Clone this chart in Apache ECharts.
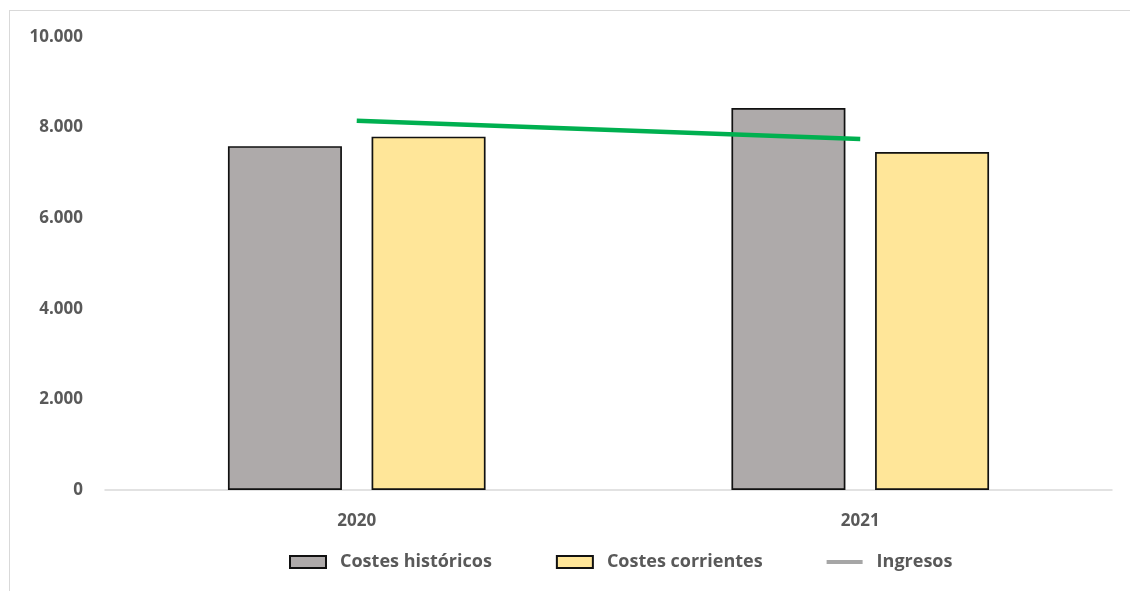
<!DOCTYPE html>
<html><head><meta charset="utf-8">
<script src="https://cdn.jsdelivr.net/npm/echarts@6/dist/echarts.min.js"></script>
<style>html,body{margin:0;padding:0;background:#fff}#c{width:1130px;height:591px}
#b{position:absolute;left:9px;top:10px;width:1200px;height:700px;border:1px solid #d9d9d9;pointer-events:none}</style>
</head><body><div id="c"></div><div id="b"></div>
<script>
const categories = ['2020', '2021'];
const costesHistoricos = [7590, 8430];
const costesCorrientes = [7800, 7460];
const ingresos = [8150, 7750];
const yTicks = [0, 2000, 4000, 6000, 8000, 10000];

const font = '"Open Sans", Lato, sans-serif';
const chart = echarts.init(document.getElementById('c'));
chart.setOption({
  animation: false,
  grid: {left: 105, right: 18, top: 37, bottom: 101},
  legend: {
    bottom: 15, left: 284, itemGap: 64, itemWidth: 36, itemHeight: 12,
    textStyle: {color: '#595959', fontSize: 18, fontWeight: 'bold', fontFamily: font, padding: [0, 0, 0, 9]},
    data: [
      {name: 'Costes históricos', icon: 'rect'},
      {name: 'Costes corrientes', icon: 'rect'},
      {name: 'Ingresos', icon: 'path://M0,0 L36,0 L36,4 L0,4 Z', itemStyle: {color: '#a6a6a6'}}
    ]
  },
  xAxis: {
    type: 'category', data: categories,
    axisLine: {lineStyle: {color: '#d9d9d9', width: 1.5}},
    axisTick: {show: false},
    axisLabel: {color: '#595959', fontSize: 17, fontWeight: 'bold', fontFamily: font, margin: 23}
  },
  yAxis: {
    type: 'value', min: yTicks[0], max: yTicks[yTicks.length - 1], interval: 2000,
    splitLine: {show: false}, axisLine: {show: false}, axisTick: {show: false},
    axisLabel: {color: '#595959', fontSize: 17, fontWeight: 'bold', fontFamily: font, margin: 22,
      formatter: v => v.toLocaleString('de-DE')}
  },
  series: [
    {name: 'Costes históricos', type: 'bar', data: costesHistoricos, barWidth: 114, barGap: '26%',
      itemStyle: {color: '#aeaaaa', borderColor: '#111', borderWidth: 1.7}},
    {name: 'Costes corrientes', type: 'bar', data: costesCorrientes, barWidth: 114,
      itemStyle: {color: '#ffe699', borderColor: '#111', borderWidth: 1.7}},
    {name: 'Ingresos', type: 'line', data: ingresos, symbol: 'none', showSymbol: false,
      lineStyle: {color: '#00b050', width: 4.5}, itemStyle: {color: '#00b050'}, z: 5}
  ]
});
</script></body></html>
